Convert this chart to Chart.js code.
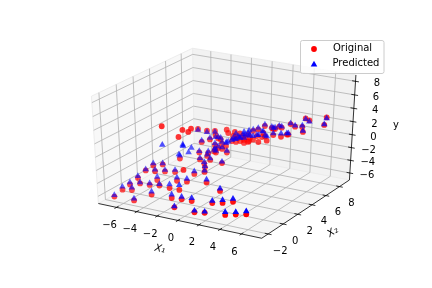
<!DOCTYPE html>
<html>
<head>
<meta charset="utf-8">
<script src="https://cdn.jsdelivr.net/npm/chart.js@4"></script>
<style>
html,body{margin:0;padding:0;background:#fff}
#wrap{width:432px;height:288px}
</style>
</head>
<body>
<div id="wrap"><canvas id="chart" width="432" height="288"></canvas></div>
<script>
/* axis ticks and limits */
const x1Ticks=[-6,-4,-2,0,2,4,6];
const x2Ticks=[-2,0,2,4,6,8];
const yTicks=[-6,-4,-2,0,2,4,6,8];
const x1Lim=[-7.5,7.55];
const x2Lim=[-2.6,9.25];
const yLim=[-6.8,8.6];

/* values */
const x1=[-6.90,-4.94,-6.54,-6.16,-5.84,-5.79,-5.46,-5.47,-4.71,-3.75,-5.08,-4.77,-4.32,-3.73,-4.43,-4.04,-2.58,-1.60,-0.64,-2.45,-1.51,-0.57,0.48,-1.45,-3.29,-1.35,-0.87,0.45,2.31,2.51,3.44,4.29,1.58,2.55,4.45,5.36,6.33,
  -4.33,-1.73,-3.14,-3.08,-2.60,-2.50,-3.37,
  -2.15,-1.49,-1.46,-1.11,-0.92,-2.32,-1.80,-1.23,-1.02,-1.88,-1.23,-0.95,0.39,0.04,-0.60,-1.26,-1.10,-0.94,-0.55,-3.01,-2.30,-1.71,-1.52,
  -0.90,-0.68,-0.22,-0.23,0.21,0.19,0.50,0.68,0.83,1.06,1.07,1.50,1.58,2.17,1.39,1.95,1.76,2.37,2.84,2.59,2.37,2.74,3.03,2.96,3.26,3.86,4.23,4.37,3.81,4.41,5.09,5.51,4.78,5.27,6.94,6.63,
  -0.15,0.17,0.44,0.79,1.05,-0.42,-0.78,1.90,0.01,0.69,1.09];
const x2=[-1.98,-1.98,-1.40,-0.93,-1.11,-0.38,-0.55,0.21,-0.30,-1.28,0.68,0.49,0.17,-0.31,1.04,0.81,-0.51,-1.51,-2.43,0.27,-0.66,-1.60,-1.71,0.23,1.12,1.05,1.79,0.23,-0.55,-1.81,-1.76,-1.59,-2.82,-2.83,-2.80,-2.71,-2.72,
  0.94,0.19,1.46,1.89,1.99,2.22,1.87,
  2.77,3.05,2.88,3.43,3.60,3.32,3.70,4.02,4.06,2.49,2.18,2.58,2.31,3.43,3.69,3.63,3.32,3.32,1.31,3.77,3.99,4.24,4.07,
  4.69,4.59,4.62,4.86,4.70,4.96,4.96,4.95,5.19,5.09,5.51,4.89,5.29,4.66,5.74,5.63,6.11,5.28,4.84,6.09,6.19,6.10,5.45,6.36,6.27,5.31,5.57,5.57,6.69,6.43,6.42,5.89,7.34,7.13,6.70,7.50,
  4.36,4.45,4.63,4.67,4.85,3.94,3.90,5.53,4.67,4.81,4.92];
const yOriginal=[-6.36,-6.31,-5.57,-4.98,-5.61,-4.23,-4.86,-3.37,-5.03,-5.51,-2.80,-3.47,-4.46,-4.79,-2.69,-3.49,-4.67,-5.17,-5.62,-4.05,-4.51,-4.98,-4.81,-3.85,-3.55,-3.20,-2.54,-3.37,-3.50,-4.37,-4.08,-3.74,-5.34,-5.08,-4.79,-4.48,-4.12,
  3.20,-2.10,1.62,2.41,2.18,2.55,-2.00,
  -1.31,-1.37,-1.71,-0.97,-0.80,-0.11,0.18,0.29,0.18,-2.11,-2.33,-1.96,-1.84,-1.09,-0.91,-0.45,-1.20,-1.31,-2.82,1.38,1.18,1.15,0.66,
  1.30,0.92,0.58,1.03,0.35,0.86,0.58,0.40,0.75,0.35,1.15,0.34,0.66,0.34,1.32,1.02,1.72,0.84,0.63,1.52,1.54,1.56,1.14,1.80,1.80,1.21,1.49,1.53,2.24,2.18,2.33,2.05,2.95,2.92,2.99,3.52,
  0.00,-0.11,0.00,-0.22,-0.11,-0.57,-0.34,0.46,0.46,0.12,0.00];
const yPredicted=[-6.13,-6.01,-5.11,-4.64,-5.23,-3.92,-4.68,-3.19,-4.77,-5.05,-2.46,-3.23,-3.96,-4.56,-2.51,-3.26,-4.11,-4.64,-5.47,-3.56,-3.76,-4.59,-4.36,-3.40,-3.24,-2.79,-2.34,-2.92,-3.13,-4.04,-3.64,-3.30,-5.10,-4.92,-4.35,-4.12,-3.68,
  0.41,1.51,-1.04,0.20,-0.89,-0.35,-1.54,
  -1.08,-1.11,-1.48,-0.74,-0.54,0.09,0.41,0.52,0.41,-1.91,-2.10,-1.70,-1.64,-0.82,-0.65,-0.19,-0.97,-1.04,-2.62,1.23,0.98,1.00,0.40,
  -0.58,-0.38,0.27,-0.04,0.61,0.32,0.78,0.86,0.98,0.81,1.35,0.90,0.86,1.40,1.55,1.28,1.92,0.99,1.27,1.67,1.74,1.76,1.40,1.95,1.95,1.69,1.67,1.71,2.34,2.33,2.53,2.20,2.87,2.74,3.09,3.40,
  0.15,0.35,0.46,0.54,0.81,-0.11,-0.03,1.30,0.99,1.34,1.61];

/* matplotlib view at elev 30, azim -60, dist 10 */
const U=[0.866,0.5,0], V=[-0.25,0.433,0.866], N=[0.433,-0.75,0.5];
function norm(v,lim){return (v-lim[0])/(lim[1]-lim[0])-0.5}
function depth(a,b,c){
  const p=[norm(a,x1Lim),norm(b,x2Lim),norm(c,yLim)];
  return N[0]*p[0]+N[1]*p[1]+N[2]*p[2];
}
function proj(a,b,c){
  const p=[norm(a,x1Lim),norm(b,x2Lim),norm(c,yLim)];
  const w=10-depth(a,b,c);
  return {
    x:(U[0]*p[0]+U[1]*p[1]+U[2]*p[2])/w,
    y:(V[0]*p[0]+V[1]*p[1]+V[2]*p[2])/w
  };
}

/* panes sit a bit outside the limits */
const x1Pad=(x1Lim[1]-x1Lim[0])/48, x2Pad=(x2Lim[1]-x2Lim[0])/48, yPad=(yLim[1]-yLim[0])/48;
const xa=x1Lim[0]-x1Pad, xb=x1Lim[1]+x1Pad, ya=x2Lim[0]-x2Pad, yb=x2Lim[1]+x2Pad, za=yLim[0]-yPad, zb=yLim[1]+yPad;
const gap={x:NaN,y:NaN};

const grid=[];
x1Ticks.forEach(t=>grid.push(proj(t,ya,za),proj(t,yb,za),proj(t,yb,zb),gap));
x2Ticks.forEach(t=>grid.push(proj(xb,t,za),proj(xa,t,za),proj(xa,t,zb),gap));
yTicks.forEach(t=>grid.push(proj(xa,ya,t),proj(xa,yb,t),proj(xb,yb,t),gap));

const tickMarks=[];
x1Ticks.forEach(t=>tickMarks.push(proj(t,ya+x2Pad,za),proj(t,ya-x2Pad,za),gap));
x2Ticks.forEach(t=>tickMarks.push(proj(xb-x1Pad,t,za),proj(xb+x1Pad,t,za),gap));
yTicks.forEach(t=>tickMarks.push(proj(xb-x1Pad,yb,t),proj(xb+x1Pad,yb,t),gap));

const axisLines=[proj(xa,ya,za),proj(xb,ya,za),proj(xb,yb,za),proj(xb,yb,zb)];
const paneEdges=[proj(xa,ya,za),proj(xa,ya,zb),proj(xa,yb,zb),proj(xb,yb,zb),gap,proj(xa,yb,zb),proj(xa,yb,za),proj(xb,yb,za),gap,proj(xa,yb,za),proj(xa,ya,za)];

function pane(pts,color,order){
  return {data:pts,showLine:true,fill:'shape',backgroundColor:color,borderWidth:0,pointRadius:0,order};
}
function lines(pts,color,width,order){
  return {data:pts,showLine:true,borderColor:color,borderWidth:width,pointRadius:0,order,spanGaps:false};
}
/* nearer points are more solid, like depthshade */
function shade(pts,rgb,fade){
  const ds=pts.map(p=>p.d), lo=Math.min(...ds), hi=Math.max(...ds);
  return pts.map(p=>`rgba(${rgb},${1-fade*(hi-p.d)/((hi-lo)||1)})`);
}
function series(ys){
  return x1.map((v,i)=>({...proj(v,x2[i],ys[i]),d:depth(v,x2[i],ys[i])}));
}
const redPts=series(yOriginal), bluePts=series(yPredicted);

const axisText={
  id:'axisText',
  afterDraw(c){
    const g=c.ctx, sx=c.scales.x, sy=c.scales.y;
    const at=p=>[sx.getPixelForValue(p.x),sy.getPixelForValue(p.y)];
    g.save();
    g.font='10px "DejaVu Sans"';
    g.fillStyle='#000';
    g.textAlign='center';
    g.textBaseline='middle';
    const label=v=>String(v).replace('-','\u2212');
    x1Ticks.forEach(t=>{const [a,b]=at(proj(t,ya,za));g.fillText(label(t),a-7,b+18)});
    x2Ticks.forEach(t=>{const [a,b]=at(proj(xb,t,za));g.fillText(label(t),a+12,b+17)});
    g.textAlign='right';
    yTicks.forEach(t=>{const [a,b]=at(proj(xb,yb,t));g.fillText(label(t),a+24.5,b+2.5)});
    g.textAlign='center';
    g.fillText('y',396,125.5);
    g.font='italic 10px "DejaVu Sans"';
    g.save();g.translate(160,249);g.rotate(12*Math.PI/180);g.fillText('X\u2081',0,0);g.restore();
    g.save();g.translate(333,232);g.rotate(-33*Math.PI/180);g.fillText('X\u2082',0,0);g.restore();

    /* legend box */
    g.font='10px "DejaVu Sans"';
    g.beginPath();
    g.roundRect(300.5,40.5,83.5,33,2);
    g.fillStyle='rgba(255,255,255,0.8)';
    g.fill();
    g.strokeStyle='#ccc';
    g.lineWidth=1;
    g.stroke();
    g.fillStyle='#f00';
    Chart.helpers.drawPoint(g,{pointStyle:'circle',radius:2.9,rotation:0,borderWidth:0},314,49);
    g.fillStyle='#00f';
    Chart.helpers.drawPoint(g,{pointStyle:'triangle',radius:3.8,rotation:0,borderWidth:0},314,64.5);
    g.fillStyle='#000';
    g.textAlign='left';
    g.fillText('Original',333,48.5);
    g.fillText('Predicted',332.5,63.5);
    g.restore();
  }
};

new Chart(document.getElementById('chart'),{
  type:'scatter',
  data:{datasets:[
    {label:'Predicted',data:bluePts,pointStyle:'triangle',pointRadius:3.8,pointHoverRadius:3.8,borderWidth:0,backgroundColor:shade(bluePts,'0,0,255',0.45),order:0},
    {label:'Original',data:redPts,pointStyle:'circle',pointRadius:2.9,pointHoverRadius:2.9,borderWidth:0,backgroundColor:shade(redPts,'255,0,0',0.3),order:1},
    lines(axisLines,'#000',0.8,2),
    lines(tickMarks,'#000',0.8,3),
    lines(grid,'#b0b0b0',0.8,4),
    lines(paneEdges,'#e8e8e8',0.8,5),
    pane([proj(xa,ya,za),proj(xa,yb,za),proj(xa,yb,zb),proj(xa,ya,zb),proj(xa,ya,za)],'rgba(242,242,242,0.5)',6),
    pane([proj(xa,yb,za),proj(xb,yb,za),proj(xb,yb,zb),proj(xa,yb,zb),proj(xa,yb,za)],'rgba(230,230,230,0.5)',7),
    pane([proj(xa,ya,za),proj(xb,ya,za),proj(xb,yb,za),proj(xa,yb,za),proj(xa,ya,za)],'rgba(236,236,236,0.5)',8)
  ]},
  options:{
    responsive:false,
    animation:false,
    layout:{padding:{left:54,right:43.2,top:34,bottom:36.4}},
    elements:{line:{tension:0}},
    plugins:{legend:{display:false},tooltip:{enabled:false}},
    scales:{
      x:{type:'linear',display:false,min:-0.095,max:0.09},
      y:{type:'linear',display:false,min:-0.095,max:0.09}
    }
  },
  plugins:[axisText]
});
</script>
</body>
</html>
